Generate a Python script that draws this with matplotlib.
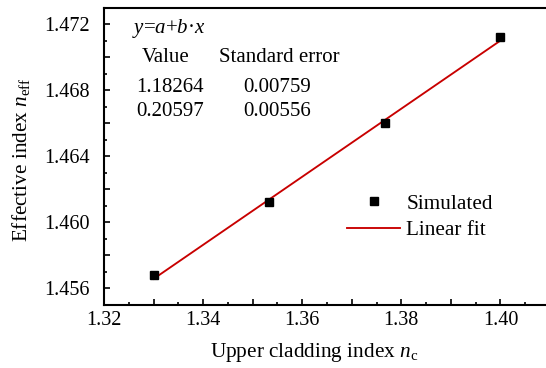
import numpy as np
import matplotlib
matplotlib.use('Agg')
import matplotlib.pyplot as plt

# Data
n_c = [1.330, 1.3533, 1.3767, 1.400]
n_eff = [1.45683, 1.46123, 1.46602, 1.47122]

# Fit parameters shown in the figure
fit_a = 1.18264
fit_b = 0.20597
fit_a_err = 0.00759
fit_b_err = 0.00556

plt.rcParams['font.family'] = ['Liberation Serif', 'DejaVu Serif']
plt.rcParams['mathtext.fontset'] = 'custom'
plt.rcParams['mathtext.rm'] = 'Liberation Serif'
plt.rcParams['mathtext.it'] = 'Liberation Serif:italic'

W, H = 546, 368
fig = plt.figure(figsize=(W / 100, H / 100), dpi=100)
# the original is cropped on the right, so the axes run past the figure edge
ax = fig.add_axes([104 / W, 1 - 305 / H, (550 - 104) / W, (305 - 7.5) / H])


def px(x, y):
    # figure pixel position -> figure fraction
    return x / W, 1 - y / H


# Linear fit line
xf = np.array([n_c[0], n_c[-1]])
ax.plot(xf, fit_a + fit_b * xf, color='#c80000', lw=1.35, label='Linear fit', zorder=2)
ax.plot(n_c, n_eff, 's', color='black', ms=5.5, label='Simulated', zorder=3)

ax.set_xlim(1.32, 1.41)
ax.set_ylim(1.455, 1.473)

xmaj = np.arange(1.32, 1.4101, 0.01)
ymaj = np.arange(1.456, 1.4731, 0.002)
ax.set_xticks(xmaj)
ax.set_xticks(np.arange(1.32, 1.4101, 0.005), minor=True)
ax.set_xticklabels(['%.2f' % v if i % 2 == 0 else '' for i, v in enumerate(xmaj)])
ax.set_yticks(ymaj)
ax.set_yticks(np.arange(1.455, 1.4731, 0.001), minor=True)
ax.set_yticklabels(['%.3f' % v if i % 2 == 0 else '' for i, v in enumerate(ymaj)])

ax.tick_params(which='both', direction='in', width=1.2, labelsize=14.5)
ax.tick_params(which='major', length=4)
ax.tick_params(which='minor', length=2.4)
ax.tick_params(axis='x', pad=4)
ax.tick_params(axis='y', pad=10)
ax.tick_params(top=False, right=False)
for s in ['left', 'bottom', 'top']:
    ax.spines[s].set_linewidth(1.5)
ax.spines['right'].set_visible(False)

fig.text(*px(21, 160), r'Effective index $n_\mathrm{eff}$', rotation=90,
         ha='center', va='center', fontsize=15.3)
fig.text(*px(314, 352), r'Upper cladding index $n_\mathrm{c}$',
         ha='center', va='center', fontsize=15.3)

# Fit table
fig.text(*px(132, 29), r'$y$=$a$+$b$·$x$', ha='left', va='center', fontsize=15)
fig.text(*px(166, 58), 'Value', ha='center', va='center', fontsize=15)
fig.text(*px(279, 58), 'Standard error', ha='center', va='center', fontsize=15)
fig.text(*px(170, 87), '%.5f' % fit_a, ha='center', va='center', fontsize=15)
fig.text(*px(277, 87), '%.5f' % fit_a_err, ha='center', va='center', fontsize=15)
fig.text(*px(170, 112), '%.5f' % fit_b, ha='center', va='center', fontsize=15)
fig.text(*px(277, 112), '%.5f' % fit_b_err, ha='center', va='center', fontsize=15)

h, l = ax.get_legend_handles_labels()
fig.legend(h[::-1], l[::-1], loc='upper left', bbox_to_anchor=px(347, 194),
           frameon=False, fontsize=15.3, handlelength=2.5, handletextpad=0.3,
           labelspacing=0.3, borderpad=0, borderaxespad=0)

fig.savefig('out.png', dpi=100)
